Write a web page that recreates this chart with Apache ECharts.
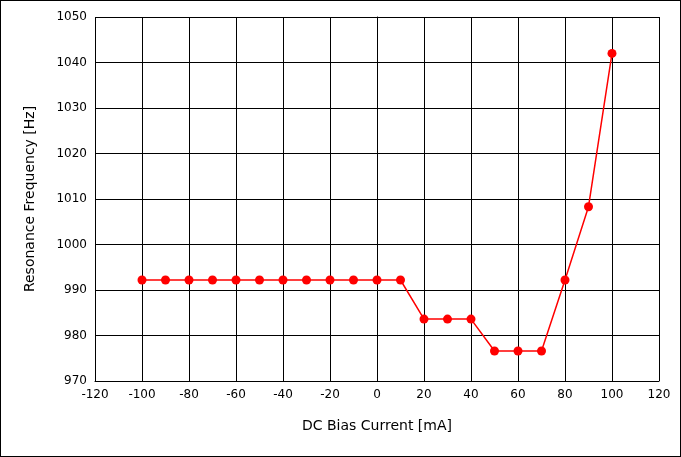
<!DOCTYPE html>
<html>
<head>
<meta charset="utf-8">
<script src="https://cdn.jsdelivr.net/npm/echarts@6/dist/echarts.min.js"></script>
<style>
  html, body { margin: 0; padding: 0; background: #fff; }
  #main { width: 679px; height: 455px; border: 1px solid #000; }
</style>
</head>
<body>
<div id="main"></div>
<script>
// bias current in mA, resonance frequency in Hz
const current = [-100, -90, -80, -70, -60, -50, -40, -30, -20, -10, 0, 10, 20, 30, 40, 50, 60, 70, 80, 90, 100]
const frequency = [992.2, 992.2, 992.2, 992.2, 992.2, 992.2, 992.2, 992.2, 992.2, 992.2, 992.2, 992.2,
  983.6, 983.6, 983.6, 976.6, 976.6, 976.6, 992.2, 1008.3, 1042.0]

let myChart = echarts.init(document.getElementById('main'))
const axisFont = { color: '#000', fontSize: 12, fontFamily: 'DejaVu Sans', formatter: v => String(v) }
myChart.setOption({
  animation: false,
  grid: { left: 94, right: 21, top: 16, bottom: 75 },
  xAxis: {
    type: 'value',
    min: -120,
    max: 120,
    interval: 20,
    name: 'DC Bias Current [mA]',
    nameLocation: 'middle',
    nameGap: 38,
    nameTextStyle: { color: '#000', fontSize: 14, fontFamily: 'DejaVu Sans' },
    axisLine: { lineStyle: { color: '#000' } },
    axisTick: { show: true, inside: true, lineStyle: { color: '#000' } },
    axisLabel: axisFont,
    splitLine: { show: true, lineStyle: { color: '#000', width: 1 } }
  },
  yAxis: {
    type: 'value',
    min: 970,
    max: 1050,
    interval: 10,
    name: 'Resonance Frequency [Hz]',
    nameLocation: 'middle',
    nameGap: 58,
    nameTextStyle: { color: '#000', fontSize: 14, fontFamily: 'DejaVu Sans' },
    axisLine: { show: true, lineStyle: { color: '#000' } },
    axisTick: { show: true, inside: true, lineStyle: { color: '#000' } },
    axisLabel: axisFont,
    splitLine: { show: true, lineStyle: { color: '#000', width: 1 } }
  },
  series: [{
    type: 'line',
    data: current.map((x, i) => [x, frequency[i]]),
    symbol: 'circle',
    symbolSize: 9,
    itemStyle: { color: '#ff0000' },
    lineStyle: { color: '#ff0000', width: 1.5 }
  }]
})
</script>
</body>
</html>
